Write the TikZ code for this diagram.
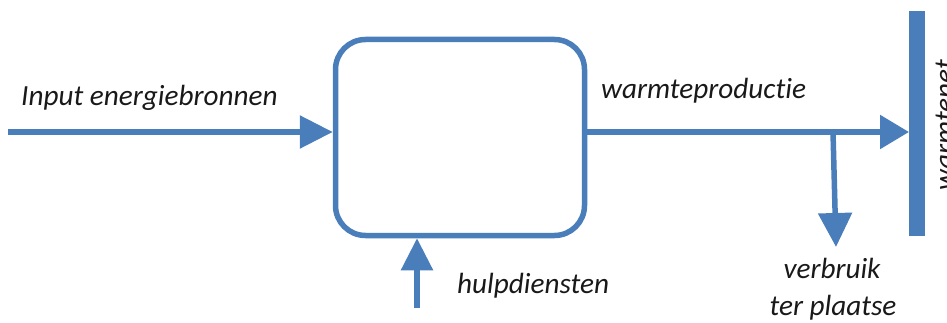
\documentclass[tikz,border=0pt]{standalone}
\usepackage{fontspec}
\setmainfont{Carlito}[Ligatures=NoCommon]
\usetikzlibrary{arrows.meta}
\definecolor{flowblue}{HTML}{4A7EBB}
\begin{document}
\begin{tikzpicture}[x=1pt,y=-1pt,
  lbl/.style={font=\fontsize{29.2}{34}\selectfont\itshape, inner sep=0pt, text=black!90},
  flow/.style={draw=flowblue, line width=5.5pt},
  headA/.style={-{Triangle[length=33pt,width=32pt]}},
  headB/.style={-{Triangle[length=29pt,width=33pt]}},
  procbox/.style={draw=flowblue, line width=5.5pt, rounded corners=30pt, fill=white}]
\useasboundingbox (0,0) rectangle (947,323);
\clip (0,0) rectangle (947,323);
% process box
\node[procbox, minimum width=249pt, minimum height=196pt, inner sep=0pt] (box) at (460,137.5) {};
% heat network bar
\fill[flowblue] (909,11) rectangle (925,236);
\coordinate (barin) at (909,132);
% input
\coordinate (inS) at (8,132);
\draw[flow, headA] (inS) -- (box.west |- inS);
% output
\draw[flow, headB] (box.east |- barin) -- (barin);
% branch
\coordinate (brS) at (833,132);
\coordinate (brE) at (836,247);
\draw[flow, -{Triangle[length=34pt,width=33pt]}] (brS) -- (brE);
% auxiliary
\coordinate (hulpS) at (417,308);
\draw[flow, -{Triangle[length=32pt,width=31pt]}] (hulpS) -- (box.south -| hulpS);
% labels
\node[lbl, anchor=base west] (tIn) at (21,106) {Input energiebronnen};
\node[lbl, anchor=base west] (tOut) at (601,99) {warmteproductie};
\node[lbl, anchor=base west] (tHulp) at (457,293) {hulpdiensten};
\node[lbl, anchor=base] (tVer) at (832,278) {verbruik};
\node[lbl, anchor=base] (tTer) at (833,315) {ter plaatse};
\node[lbl, anchor=base, rotate=90] (tNet) at (954,125) {warmtenet};
\end{tikzpicture}
\end{document}
